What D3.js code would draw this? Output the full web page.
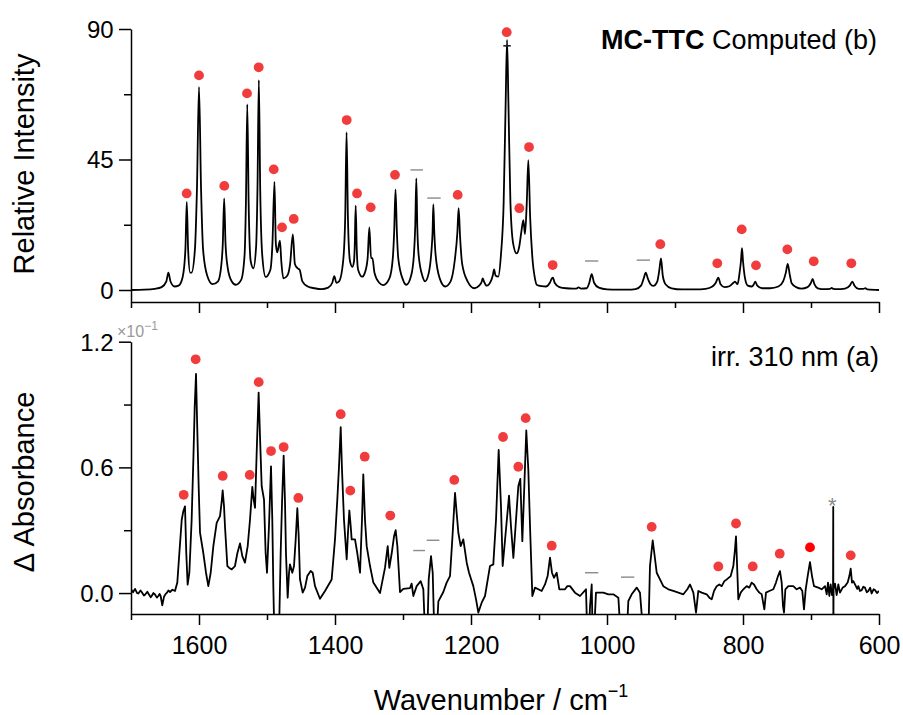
<!DOCTYPE html>
<html>
<head>
<meta charset="utf-8">
<script src="https://cdn.jsdelivr.net/npm/d3@7"></script>
<style>
  body { margin: 0; background: #fff; }
  text { font-family: Arial, "Liberation Sans", sans-serif; }
</style>
</head>
<body>
<div id="chart"></div>
<script>
// computed spectrum (top, b): [wavenumber, relative intensity]
const computedSpectrum = [
  [1700,0],[1680,0.1],[1665,0.4],[1655,1],[1648,3],[1645,6],[1642,3],[1636,1.2],[1630,1.5],
  [1624,4.5],[1620,14],[1618,30.4],[1616,14],[1613,6],[1611,6],[1606,14],[1603,35],[1600,70],
  [1597,35],[1594,14],[1588,5],[1580,2],[1572,3],[1567,9],[1565,16],[1563,31.6],[1561,16],
  [1558,8],[1552,3],[1546,1.8],[1538,3.5],[1533,12],[1531,30],[1529,64],[1527,30],[1524,10],
  [1520,7.5],[1516,15],[1514,35],[1512,72.4],[1510,35],[1507,12],[1502,4.5],[1495,7],[1492,16],
  [1489,37.3],[1487,16],[1485,13],[1481,17],[1479,10],[1476,4],[1470,5],[1466,9],[1462,19.2],
  [1459,9],[1455,7.5],[1452,7],[1448,3],[1440,1.2],[1430,0.6],[1420,0.3],[1410,0.8],[1404,2.5],
  [1401,4.8],[1398,2.5],[1394,3],[1388,10],[1385,25],[1383,54.4],[1381,25],[1378,10],[1374.5,8],
  [1372,10],[1371,15],[1369.6,29.1],[1368,14],[1366,7],[1360,4.6],[1356,6],[1352,11],[1349.5,21.6],
  [1347,11],[1345,11],[1342,6],[1335,2.5],[1329,1.7],[1320,4],[1315,11],[1313,20],[1311,34.7],
  [1309,20],[1307,11],[1300,3.5],[1295,1.8],[1288,5],[1284,12],[1282,22],[1280.4,38.5],[1279,22],
  [1277,12],[1271,4.5],[1267.6,3],[1262,6],[1258,14],[1256.5,20],[1255.4,29.5],[1254,20],[1252,12],
  [1246,4],[1238,1.2],[1230,3],[1224,10],[1220,20],[1218.2,28.2],[1216,18],[1213,9],[1205,3],
  [1195,0.6],[1188,1.5],[1184,3],[1182.8,4],[1181,3],[1177,1.5],[1170,3.5],[1168,5],[1166,7.1],
  [1164,5],[1160,4.6],[1156,12],[1152,30],[1149,65],[1147,86.2],[1145,65],[1142,30],[1138,16],
  [1133,12.6],[1129,15],[1126,20],[1123,24.1],[1120.6,19.3],[1118,30],[1115.7,44.8],[1113,25],
  [1110,12],[1106,4],[1103,1.7],[1096,1.3],[1090,1.2],[1084,2.5],[1081,4],[1079.4,4.3],[1077,2.5],
  [1070,1],[1060,0.6],[1050,0.5],[1045,0.5],[1042,0.9],[1038,0.5],[1030,0.6],[1026,2.5],[1022.5,5.5],
  [1019,2.5],[1012,0.8],[1000,0.2],[985,0.1],[970,0.1],[958,0.3],[950,1.5],[946,4],[943,6],[940,4],
  [936,2],[932,1.4],[926,3],[923,7],[920.6,10.9],[918,5],[914,2],[905,0.6],[890,0.2],[870,0.2],
  [855,0.4],[845,1.2],[840,2.5],[836.3,4.3],[833,2],[827,1],[820,1.3],[814,2.5],[811.8,2.9],
  [808,2],[805,6],[803,10],[801.5,14.4],[800,10],[797,4],[793,1.5],[787,1.2],[784,2],[781.9,2.9],
  [779,1.5],[772,0.6],[760,0.6],[748,1.2],[741,3],[737,6],[734.3,9],[731,5],[728.4,2.3],[722,1],
  [714,0.5],[705,1],[700,2.5],[697.6,3.8],[695,2],[690,0.6],[680,0.3],[672,0.4],[669.6,0.7],
  [667,0.4],[662,0.3],[650,0.5],[643,1.5],[639.3,2.9],[636,1.5],[630,0.4],[623,0.4],[620,0.6],
  [617,0.2],[600,0]
];

// experimental difference spectrum (bottom, a): [wavenumber, ΔA ×10^-1]
const measuredSpectrum = [
  [1700,0.018],[1697,0.004],[1694.1,0.02],[1691,0.0],[1689.2,-0.002],[1686,0.012],[1684.3,0.005],
  [1681,-0.012],[1679.4,-0.008],[1676,0.006],[1674.5,-0.002],[1671,-0.02],[1669.6,-0.014],
  [1667,0.0],[1664.7,-0.007],[1662,-0.022],[1659.8,-0.014],[1658,-0.004],[1656.4,-0.014],
  [1654,-0.059],[1651.5,-0.018],[1649,-0.004],[1647.5,0],[1645,0.012],[1642.6,0.005],[1639,0.016],
  [1635.3,0.01],[1631.9,0.05],[1628.9,0.19],[1625.4,0.35],[1623.1,0.39],
  [1620.6,0.414],[1618.7,0.19],[1616.7,0.04],[1614.2,0.097],[1610.8,0.35],[1608.3,0.637],
  [1606.3,0.89],[1604.4,1.046],[1602.5,0.78],[1600.5,0.51],[1598.5,0.288],[1593.6,0.19],
  [1589.7,0.097],[1586.3,0.033],[1582.8,0.097],[1578.9,0.224],[1574,0.335],[1569.1,0.367],
  [1566.6,0.438],[1565.2,0.49],[1563.2,0.414],[1561.8,0.319],[1558.3,0.129],[1555.4,0.12],
  [1551.9,0.113],[1547.1,0.129],[1543.6,0.19],[1539.7,0.237],[1536.3,0.176],[1532.4,0.145],
  [1528.4,0.224],[1525,0.35],[1521.6,0.507],[1519.6,0.446],[1517.6,0.407],[1515.2,0.669],
  [1512.3,0.957],[1510.3,0.748],[1507.8,0.51],[1504.4,0.446],[1502,0.19],[1500,0.097],
  [1497.1,0.319],[1494.1,0.605],[1492.2,0.35],[1490.7,0.033],[1489.2,-0.205],[1485.8,-0.205],
  [1481.9,-0.125],[1479.9,0.19],[1477.9,0.43],[1475.5,0.656],[1473.5,0.43],[1472.1,0.19],
  [1469.6,-0.022],[1467.6,0.097],[1466.2,0.137],[1462.8,0.097],[1460.3,0.129],[1457.8,0.256],
  [1455.4,0.405],[1453.4,0.271],[1451.5,0.065],[1447.5,0.002],[1444.1,0.026],[1440.7,0.081],
  [1435.8,0.105],[1432.8,0.097],[1429.4,0.033],[1422.1,-0.027],[1414.7,0.01],[1404.9,0.065],
  [1400,0.256],[1396.6,0.446],[1394.1,0.605],[1391.6,0.792],[1389.7,0.589],[1386.8,0.35],
  [1382.8,0.161],[1380.9,0.288],[1378.9,0.394],[1376.9,0.319],[1375.5,0.256],[1370.6,0.256],
  [1367.2,0.19],[1363.2,0.097],[1360.3,0.35],[1358.4,0.567],[1355.9,0.35],[1353.4,0.224],
  [1348.5,0.129],[1343.6,0.05],[1333.8,0],[1326.5,0.12],[1322.5,0.224],[1320.1,0.12],
  [1316.6,0.19],[1313.2,0.271],[1310.8,0.3],[1308.3,0.224],[1304.4,0.005],[1299.5,0.02],
  [1289.7,0.024],[1287.3,0.045],[1284.8,-0.014],[1279.9,0.033],[1274,0.057],[1270.1,0.018],
  [1267.6,-0.2],[1264.2,-0.2],[1262.2,0.065],[1258.8,0.176],[1256.3,0.097],[1253.9,-0.2],
  [1250.5,-0.2],[1248,-0.04],[1240.7,0.005],[1235.8,0.05],[1230.9,0.081],[1227.5,0.256],
  [1223.5,0.478],[1221.1,0.383],[1218.6,0.288],[1215.2,0.224],[1211.3,0.256],[1206.3,0.145],
  [1202.9,0.097],[1196.6,0.033],[1192.6,-0.03],[1189.2,-0.093],[1184.3,-0.046],[1179.4,-0.014],
  [1172.1,0.129],[1167.2,0.137],[1163.2,0.35],[1159.3,0.684],[1155.9,0.414],[1153.4,0.129],
  [1149,0.288],[1144.1,0.465],[1141.2,0.319],[1137.7,0.168],[1133.8,0.35],[1130.4,0.51],
  [1127.5,0.545],[1124.5,0.248],[1121.6,0.51],[1118.7,0.776],[1115.7,0.589],[1113.2,0.319],
  [1109.8,-0.014],[1105.9,0.026],[1101,0.018],[1096,0.01],[1091.2,0.041],[1087.3,0.081],
  [1083.8,0.169],[1080.9,0.097],[1078,0.073],[1074,0.097],[1070.1,0.018],[1061.8,0.018],
  [1058.3,0.033],[1054.4,0.033],[1047.1,0.002],[1039.7,-0.014],[1030.9,0.018],[1029,-0.2],
  [1026.5,-0.2],[1025,-0.065],[1022.5,0.041],[1021.1,-0.2],[1019.1,-0.2],[1016.2,0.002],
  [1005.4,0.002],[998,-0.006],[990.7,-0.006],[983.3,-0.022],[979.9,-0.2],[971,-0.2],
  [968.6,-0.038],[963.7,-0.006],[956.3,0.026],[951.5,0.002],[946.6,-0.2],[939.2,-0.2],
  [936.8,0.129],[932.8,0.251],[930.4,0.19],[926.9,0.097],[922.1,0.065],[917.2,0.033],
  [909.8,0.018],[902.5,0.01],[895.1,0.002],[887.7,-0.006],[881.9,0.018],[877.9,0.041],
  [873,0.002],[869.1,-0.093],[865.7,0.01],[860.7,0.002],[853.4,-0.006],[849.5,-0.022],
  [846,-0.03],[842.6,0.01],[838.7,0.033],[834.8,0.041],[831.3,0.033],[827.4,0.057],
  [823.9,0.065],[818.1,0.081],[814.2,0.129],[811.8,0.208],[810.3,0.271],[808.3,0.097],
  [806.9,-0.03],[803.4,0.002],[799.5,0.018],[794.6,0.033],[790.7,0.026],[787.3,0.05],
  [783.8,0.041],[779.9,0.018],[776,0.002],[772.5,-0.006],[768.6,-0.078],[766.2,0.002],
  [761.3,0.01],[755.4,0.018],[751.5,0.05],[748.5,0.081],[745.6,0.105],[743.1,0.05],
  [741.2,-0.062],[739.7,-0.093],[737.7,0.018],[733.3,0.033],[726,0.033],[721.1,0.018],
  [716.2,0.026],[712.8,0.01],[710.3,-0.078],[707.8,0.018],[704.9,0.081],[701.5,0.148],
  [698.5,0.081],[695.6,0.033],[689.3,0.026],[684.3,0.018],[679.4,0.033],[676.9,-0.006],
  [675,0.05],[673,-0.014],[671.1,0.041],[669.1,-0.01],[667.6,0.02],[667.3,0.411],[667.1,-0.2],
  [666.8,0.02],[664.7,0.045],[662.3,-0.01],[659.8,0.041],[657.4,0.002],[653.4,0.026],[650,0.033],
  [646.1,0.05],[643.6,0.081],[641.6,0.116],[639.7,0.05],[637.7,0.057],[635.3,0.041],
  [632,0.02],[630.4,0.033],[628,0.01],[625.5,0.014],[623,0.03],[620.6,0.026],[618,0.004],
  [615.7,0.01],[613,0.025],[610.8,-0.002],[608,0.018],[605.9,0.014],[603,0.0],[600,0.01]
];

// assigned bands (red dots): [wavenumber, value]
const computedDots = [
  [1618.1,33.3],[1600,74],[1562.8,35.9],[1529.4,67.8],[1512.2,76.8],[1490.1,41.6],[1477.9,21.6],
  [1460.7,24.5],[1382.8,58.6],[1367.6,33.3],[1347.5,28.5],[1311.8,39.7],[1219.6,32.8],
  [1147.5,88.9],[1128.9,28.2],[1114.7,49.3],[1079.9,8.6],[921.6,15.8],[837.8,9.2],[801.9,20.9],
  [780.9,8.5],[734.8,14],[696,9.9],[640.7,9.2]
];
const measuredDots = [
  [1622.5,0.469],[1604.9,1.116],[1565.1,0.559],[1525.4,0.564],[1512.2,1.007],[1494.1,0.678],
  [1475.5,0.697],[1453.9,0.454],[1391.6,0.854],[1377.5,0.489],[1356.3,0.651],[1318.7,0.37],
  [1224.6,0.54],[1152.9,0.745],[1130.4,0.603],[1119.6,0.835],[1081.3,0.226],[934.3,0.316],
  [836.3,0.127],[810.3,0.332],[785.7,0.127],[746,0.188],[701.5,0.218],[641.6,0.18]
];

// unassigned bands (dashes): [from, to, value]
const computedDashes = [[1289,1270.6,41.4],[1264.3,1244.6,31.7],[1032.4,1012.8,10],[956.3,936.8,10.3]];
const measuredDashes = [[1285,1267.6,0.203],[1265.1,1246.6,0.252],[1032.4,1012.8,0.097],[979.4,959.9,0.076]];
const peakMark = [1152.5, 1141.5, 84.2];
const starBand = [668.7, 0.45];

const xTicks = [1600, 1400, 1200, 1000, 800, 600];
const xMinor = [1700, 1500, 1300, 1100, 900, 700];
const topTicks = [0, 45, 90];
const topMinor = [22.5, 67.5];
const botTicks = [0, 0.6, 1.2];
const botMinor = [0.3, 0.9];

const W = 903, H = 715;
const svg = d3.select("#chart").append("svg").attr("width", W).attr("height", H);

const x = d3.scaleLinear().domain([1700, 600]).range([131, 879]);
const yTop = d3.scaleLinear().domain([-4.14, 90]).range([302, 29]);
const yBot = d3.scaleLinear().domain([-0.1, 1.2]).range([614, 341.7]);

const dotColor = "#f03c3c";

function panel(name, y, ticks, minor, fmt, curve, spec, dots, dashes) {
  const g = svg.append("g");
  const [y0, y1] = y.range();
  svg.append("clipPath").attr("id", "clip-" + name)
    .append("rect").attr("x", 131).attr("y", y1).attr("width", 748).attr("height", y0 - y1);

  // left axis
  const ya = d3.axisLeft(y).tickValues(ticks).tickFormat(fmt).tickSize(12).tickSizeOuter(0);
  const yg = g.append("g").attr("transform", "translate(131,0)").call(ya);
  yg.selectAll("text").attr("font-size", 24).attr("fill", "#000").attr("dx", "-0.1em").attr("dy", "0.35em");
  g.append("g").attr("transform", "translate(131,0)")
    .call(d3.axisLeft(y).tickValues(minor).tickFormat("").tickSize(7).tickSizeOuter(0))
    .select(".domain").remove();

  // bottom axis
  const xg = g.append("g").attr("transform", `translate(0,${y0})`)
    .call(d3.axisBottom(x).tickValues(xTicks).tickSize(11).tickSizeOuter(0)
      .tickFormat(name === "bot" ? d3.format("d") : ""));
  xg.selectAll("text").attr("font-size", 25).attr("fill", "#000").attr("dy", "1.05em");
  g.append("g").attr("transform", `translate(0,${y0})`)
    .call(d3.axisBottom(x).tickValues(xMinor).tickSize(6).tickSizeOuter(0).tickFormat(""))
    .select(".domain").remove();
  g.selectAll(".domain, .tick line").attr("stroke", "#000").attr("stroke-width", 1.5);

  const line = d3.line().x(d => x(d[0])).y(d => y(d[1])).curve(curve);
  g.append("path").datum(spec).attr("clip-path", `url(#clip-${name})`)
    .attr("fill", "none").attr("stroke", "#000").attr("stroke-width", 1.8)
    .attr("stroke-linejoin", "round").attr("d", line);

  g.selectAll(".dash").data(dashes).enter().append("line")
    .attr("x1", d => x(d[0])).attr("x2", d => x(d[1]))
    .attr("y1", d => y(d[2])).attr("y2", d => y(d[2]))
    .attr("stroke", "#8a8a8a").attr("stroke-width", 1.4);

  g.selectAll(".dot").data(dots).enter().append("circle")
    .attr("cx", d => x(d[0])).attr("cy", d => y(d[1])).attr("r", 4.9)
    .attr("fill", d => d[0] === 701.5 ? "#ff0000" : dotColor);
  return g;
}

const topPanel = panel("top", yTop, topTicks, topMinor, d3.format("d"), d3.curveMonotoneX,
  computedSpectrum, computedDots, computedDashes);
const botPanel = panel("bot", yBot, botTicks, botMinor, d3.format(".1f"), d3.curveLinear,
  measuredSpectrum, measuredDots, measuredDashes);

topPanel.append("line")
  .attr("x1", x(peakMark[0])).attr("x2", x(peakMark[1]))
  .attr("y1", yTop(peakMark[2])).attr("y2", yTop(peakMark[2]))
  .attr("stroke", "#222").attr("stroke-width", 1.6);

botPanel.append("text").attr("x", x(starBand[0])).attr("y", yBot(starBand[1]) + 14)
  .attr("text-anchor", "middle").attr("font-size", 22).attr("fill", "#8a8a8a").text("*");

// ×10^-1 multiplier
const mult = svg.append("text").attr("x", 117).attr("y", 337).attr("font-size", 16).attr("fill", "#9a9a9a");
mult.append("tspan").text("×10");
mult.append("tspan").attr("dy", -7).attr("font-size", 12).text("−1");

// panel labels
const lb = svg.append("text").attr("x", 877).attr("y", 49).attr("text-anchor", "end").attr("font-size", 27);
lb.append("tspan").attr("font-weight", "bold").text("MC-TTC");
lb.append("tspan").text(" Computed (b)");
svg.append("text").attr("x", 879).attr("y", 366).attr("text-anchor", "end")
  .attr("font-size", 27).text("irr. 310 nm (a)");

// axis titles
svg.append("text").attr("transform", "translate(34,164) rotate(-90)")
  .attr("text-anchor", "middle").attr("font-size", 29).text("Relative Intensity");
svg.append("text").attr("transform", "translate(34,482) rotate(-90)")
  .attr("text-anchor", "middle").attr("font-size", 29).text("Δ Absorbance");
const xt = svg.append("text").attr("x", 501).attr("y", 710).attr("text-anchor", "middle").attr("font-size", 29);
xt.append("tspan").text("Wavenumber / cm");
xt.append("tspan").attr("dy", -13).attr("font-size", 18).text("−1");
</script>
</body>
</html>
